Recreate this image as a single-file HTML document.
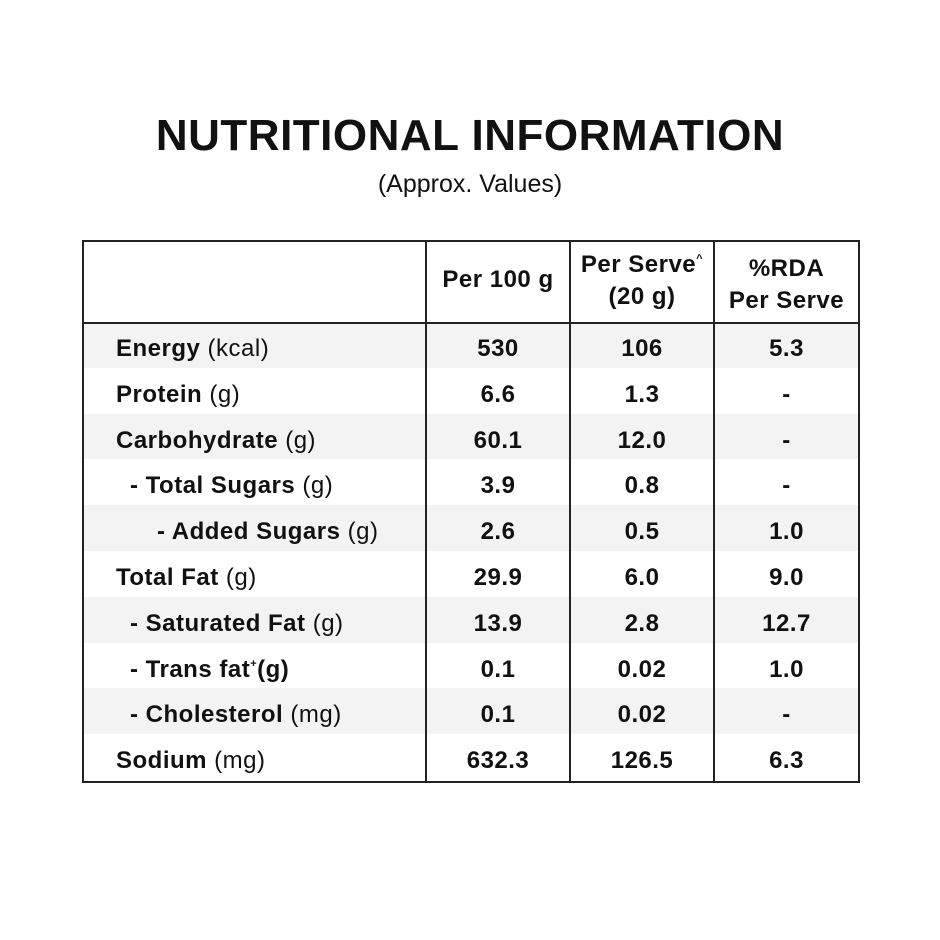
<!DOCTYPE html>
<html><head><style>
body{margin:0;width:940px;height:940px;background:#fff;font-family:"Liberation Sans",sans-serif;color:#111;position:relative;overflow:hidden}
.t{position:absolute;left:0;width:940px;text-align:center}
.box{position:absolute;left:82px;top:240px;width:774px;height:539px;border:2px solid #222}
.v{position:absolute;top:0;bottom:0;width:2px;background:#222}
.h{position:absolute;left:0;right:0;top:80px;height:2px;background:#222}
.row{position:absolute;left:0;width:774px;height:45.8px;font-size:24px;font-weight:bold;line-height:45.8px;letter-spacing:0.5px}
.g{background:#f3f3f3}
.row span{position:absolute;top:2px}
.c{text-align:center}
.n{font-weight:normal}
sup{line-height:0;font-size:11px;vertical-align:0;position:relative;top:-10px}
.hd{position:absolute;font-size:24px;font-weight:bold;text-align:center;line-height:32px;letter-spacing:0.5px}
</style></head><body>
<div class="t" style="top:111px;font-size:44px;font-weight:bold;letter-spacing:0.5px">NUTRITIONAL INFORMATION</div>
<div class="t" style="top:170px;font-size:25px">(Approx. Values)</div>
<div class="box">
<div class="row g" style="top:80px"></div>
<div class="row g" style="top:171.6px"></div>
<div class="row g" style="top:263.2px"></div>
<div class="row g" style="top:354.8px"></div>
<div class="row g" style="top:446.4px"></div>
<div class="v" style="left:341px"></div>
<div class="v" style="left:485px"></div>
<div class="v" style="left:629px"></div>
<div class="h"></div>
<div class="hd" style="left:343px;width:142px;top:22px">Per 100 g</div>
<div class="hd" style="left:487px;width:142px;top:7px">Per Serve<sup>^</sup><br>(20 g)</div>
<div class="hd" style="left:631px;width:143px;top:11px">%RDA<br>Per Serve</div>
<div id="rows"></div>
</div>
<script>
var d=[["Energy"," (kcal)","530","106","5.3",0],["Protein"," (g)","6.6","1.3","-",0],["Carbohydrate"," (g)","60.1","12.0","-",0],["- Total Sugars"," (g)","3.9","0.8","-",1],["- Added Sugars"," (g)","2.6","0.5","1.0",2],["Total Fat"," (g)","29.9","6.0","9.0",0],["- Saturated Fat"," (g)","13.9","2.8","12.7",1],["- Trans fat<sup>+</sup>(g)","","0.1","0.02","1.0",1],["- Cholesterol"," (mg)","0.1","0.02","-",1],["Sodium"," (mg)","632.3","126.5","6.3",0]];
var h="";d.forEach(function(r,i){var ind=[32,46,73][r[5]];var t=82+i*45.8;
h+='<div class="row" style="top:'+t+'px"><span style="left:'+ind+'px">'+r[0]+'<span class="n" style="position:static">'+r[1]+'</span></span><span class="c" style="left:343px;width:142px">'+r[2]+'</span><span class="c" style="left:487px;width:142px">'+r[3]+'</span><span class="c" style="left:631px;width:143px">'+r[4]+'</span></div>';});
document.getElementById("rows").outerHTML=h;
</script>
</body></html>
